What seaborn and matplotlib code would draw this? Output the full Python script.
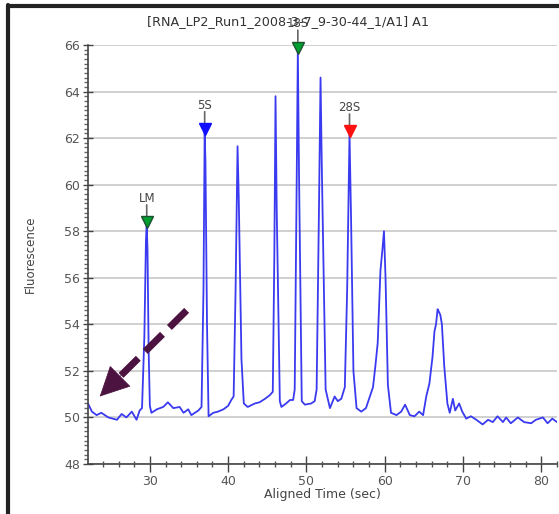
import numpy as np
import pandas as pd
import matplotlib
matplotlib.use("Agg")
from matplotlib import pyplot as plt
from matplotlib.lines import Line2D
from matplotlib.ticker import MultipleLocator
from matplotlib.transforms import ScaledTranslation
import seaborn as sns

# electropherogram trace
time = [22.1, 22.6, 23.2, 23.8, 24.7, 25.8, 26.4, 27.0, 27.7, 28.3, 28.7, 29.0,
        29.3, 29.5, 29.6, 29.7, 29.85, 30.0, 30.2, 30.9, 31.7, 32.3, 33.0, 33.8,
        34.3, 34.9, 35.3, 36.2, 36.6, 36.85, 37.0, 37.1, 37.3, 37.5, 38.1, 38.7,
        39.4, 40.0, 40.4, 40.7, 40.95, 41.2, 41.35, 41.7, 42.0, 42.5, 43.4, 44.0,
        44.7, 45.3, 45.7, 45.9, 46.05, 46.2, 46.6, 46.8, 47.4, 47.9, 48.3, 48.5,
        48.75, 48.9, 49.05, 49.4, 49.8, 50.6, 51.05, 51.3, 51.6, 51.8, 51.95, 52.45,
        53.0, 53.6, 54.0, 54.45, 54.9, 55.2, 55.5, 55.7, 56.0, 56.4, 57.0, 57.6,
        58.1, 58.5, 58.8, 59.1, 59.45, 59.7, 59.9, 60.1, 60.4, 60.8, 61.5, 62.1,
        62.6, 63.2, 63.8, 64.4, 64.9, 65.3, 65.7, 66.1, 66.35, 66.55, 66.75, 66.9,
        67.1, 67.3, 67.6, 68.0, 68.3, 68.7, 69.0, 69.5, 69.9, 70.4, 71.0, 71.7,
        72.5, 73.2, 73.8, 74.4, 75.1, 75.5, 76.1, 77.0, 77.8, 78.7, 79.3, 80.2,
        80.8, 81.4, 82.0]
fluor = [50.6, 50.25, 50.1, 50.2, 50.0, 49.9, 50.15, 50.0, 50.25, 49.9, 50.3, 50.4,
         53.5, 57.6, 58.3, 57.2, 52.8, 50.5, 50.2, 50.35, 50.45, 50.65, 50.4, 50.45,
         50.2, 50.35, 50.1, 50.3, 50.45, 55.5, 62.3, 61.0, 54.0, 50.05, 50.2, 50.25,
         50.35, 50.5, 50.75, 50.9, 55.5, 61.65, 59.5, 52.5, 50.6, 50.45, 50.6, 50.65,
         50.8, 50.95, 51.1, 57.0, 63.8, 59.0, 50.7, 50.45, 50.6, 50.75, 50.75, 51.2,
         60.0, 65.8, 60.5, 50.7, 50.55, 50.6, 50.7, 51.2, 59.0, 64.6, 61.0, 51.2,
         50.4, 50.9, 50.7, 50.8, 51.3, 55.5, 62.2, 58.5, 52.0, 50.4, 50.25, 50.4,
         50.9, 51.3, 52.2, 53.2, 56.3, 57.2, 58.0, 56.0, 51.4, 50.2, 50.1, 50.25,
         50.55, 50.1, 50.05, 50.25, 50.1, 50.9, 51.45, 52.6, 53.7, 54.0, 54.65, 54.55,
         54.4, 54.0, 52.2, 50.6, 50.2, 50.8, 50.3, 50.6, 50.25, 49.95, 50.05, 49.9,
         49.7, 49.9, 49.8, 50.05, 49.8, 50.0, 49.75, 50.0, 49.8, 49.75, 49.9, 50.0,
         49.75, 49.95, 49.8]

# peak markers
marker_names = ['LM', '5S', '18S', '28S']
marker_times = [29.6, 37.0, 48.9, 55.5]
marker_heights = [58.3, 62.3, 65.8, 62.2]
marker_colors = ['#00a030', '#1010ff', '#00a030', '#ff1010']
marker_edges = ['#1d5030', '#1010ff', '#1d5030', '#ff1010']

title = '[RNA_LP2_Run1_2008-3-7_9-30-44_1/A1] A1'

sns.set_style('white')
plt.rcParams['font.family'] = ['DejaVu Sans']

df = pd.DataFrame({'time': time, 'fluor': fluor})

fig = plt.figure(figsize=(5.59, 5.14), dpi=100)
ax = fig.add_axes([88 / 559, 50 / 514, 469 / 559, 419 / 514])

sns.lineplot(data=df, x='time', y='fluor', ax=ax, color='#3a3af0', lw=1.3, sort=False)

ax.set_xlim(22.1, 82)
ax.set_ylim(48, 66)
ax.xaxis.set_major_locator(MultipleLocator(10))
ax.xaxis.set_minor_locator(MultipleLocator(2))
ax.yaxis.set_major_locator(MultipleLocator(2))
ax.yaxis.set_minor_locator(MultipleLocator(0.2))
ax.tick_params(which='major', direction='inout', width=1, color='#444',
               labelcolor='#555', labelsize=9, pad=2)
ax.tick_params(axis='y', which='major', length=7)
ax.tick_params(axis='x', which='major', length=12)
ax.tick_params(axis='y', which='minor', direction='out', length=3, width=1, color='#666')
ax.tick_params(axis='x', which='minor', direction='inout', length=5, width=1, color='#555')
ax.xaxis.set_ticks_position('bottom')
ax.yaxis.set_ticks_position('left')

ax.grid(axis='y', which='major', color='#c8c8c8', lw=1.2)
ax.grid(axis='x', visible=False)
ax.set_axisbelow(True)
for side in ['top', 'right']:
    ax.spines[side].set_visible(False)
for side in ['left', 'bottom']:
    ax.spines[side].set_color('#444')
    ax.spines[side].set_linewidth(1.2)

ax.set_xlabel('Aligned Time (sec)', fontsize=9, color='#444', labelpad=0)
ax.set_ylabel('Fluorescence', fontsize=8.5, color='#444', labelpad=20)

# peak markers: triangle, short grey stem, label
lift = ScaledTranslation(0, 2 / 100, fig.dpi_scale_trans)
for name, t, h, c, e in zip(marker_names, marker_times, marker_heights, marker_colors, marker_edges):
    ax.plot([t], [h], marker='v', markersize=9, color=c, markeredgecolor=e,
            clip_on=False, zorder=5, transform=ax.transData + lift)
    ax.annotate('', xy=(t, h), xytext=(0, 14), textcoords='offset points',
                annotation_clip=False,
                arrowprops=dict(arrowstyle='-', color='#666', lw=1.2, shrinkA=0, shrinkB=6))
    ax.annotate(name, xy=(t, h), xytext=(0, 14), textcoords='offset points',
                ha='center', va='bottom', fontsize=8.5, color='#444', annotation_clip=False)

fig.text(288 / 559, 1 - 22 / 514, title, ha='center', va='center', fontsize=9.2, color='#333')

# dashed pointer arrow
tail = (34.7, 54.6)
tip = (23.6, 50.9)
near_tip = (26.3, 51.8)
ax.plot([tail[0], near_tip[0]], [tail[1], near_tip[1]], color='#4c1240', lw=5,
        dashes=(3.5, 1.4), solid_capstyle='butt', dash_capstyle='butt', zorder=6)
ax.annotate('', xy=tip, xytext=near_tip,
            arrowprops=dict(arrowstyle='-|>,head_length=1.0,head_width=0.5',
                            color='#4c1240', lw=0.5, mutation_scale=20, shrinkA=0, shrinkB=0),
            zorder=6)

# window frame
fig.add_artist(Line2D([8 / 559, 8 / 559], [0, 1 - 5 / 514], color='#222', lw=3))
fig.add_artist(Line2D([8 / 559, 1], [1 - 6 / 514, 1 - 6 / 514], color='#222', lw=3))

fig.savefig('out.png', dpi=100)
